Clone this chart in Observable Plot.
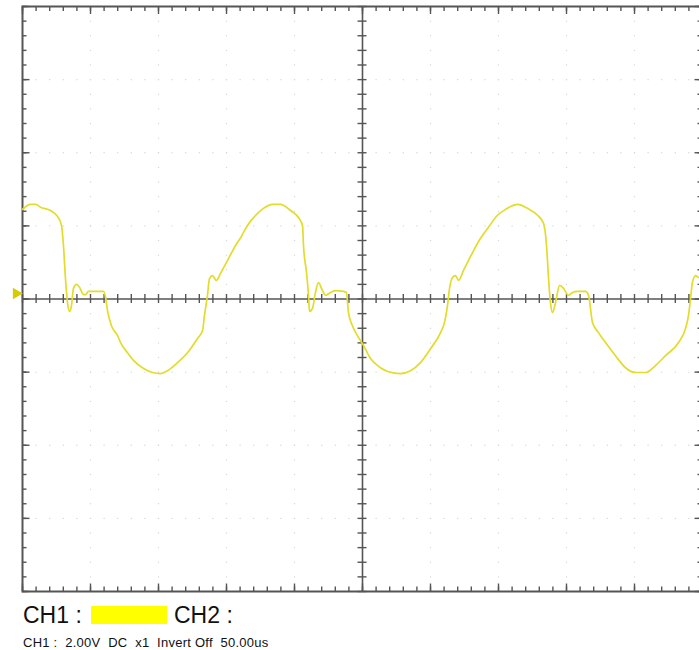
<!DOCTYPE html>
<html>
<head>
<meta charset="utf-8">
<script src="https://cdn.jsdelivr.net/npm/d3@7"></script>
<script src="https://cdn.jsdelivr.net/npm/@observablehq/plot@0.6"></script>
<style>
  html, body { margin: 0; padding: 0; background: #fff; overflow: hidden; width: 699px; height: 650px; }
  #wrap { position: relative; width: 699px; height: 650px; overflow: hidden; }
  #chart { position: absolute; left: 0; top: 0; }
  .big { position: absolute; font-family: "Liberation Sans", Arial, sans-serif; font-size: 23px; line-height: 23px; color: #111; white-space: pre; }
  .small { position: absolute; font-family: "Liberation Sans", Arial, sans-serif; font-size: 13px; line-height: 13px; letter-spacing: 0.25px; color: #111; white-space: pre; }
  #swatch { position: absolute; left: 91px; top: 606px; width: 76px; height: 18px; background: #ffff00; }
</style>
</head>
<body>
<div id="wrap">
  <div id="chart"></div>
  <div class="big" style="left:23px; top:603.5px;">CH1 :</div>
  <div id="swatch"></div>
  <div class="big" style="left:174px; top:603.5px;">CH2 :</div>
  <div class="small" style="left:23px; top:635.7px;">CH1 :  2.00V  DC  x1  Invert Off  50.00us</div>
</div>
<script>
// Time in microseconds (50 us/div), voltage in volts (2 V/div)
const times = [
  -250, -244.1, -240.4, -236.8, -229.4, -224.3, -221.3, -219.9, -218.4, -216.9,
  -215.4, -214.0, -212.5, -210.3, -208.1, -205.1, -203.7, -201.5, -198.5, -190.4,
  -188.9, -187.5, -184.6, -180.1, -177.9, -172.8, -168.4, -161.0, -154.4, -148.5,
  -143.4, -136.0, -128.7, -121.3, -117.6, -116.2, -114.0, -112.5, -110.3, -107.4,
  -104.4, -99.3, -91.9, -89.7, -87.5, -84.6, -77.2, -72.8, -66.2, -60.3,
  -52.9, -47.1, -44.1, -43.4, -41.2, -39.7, -39.0, -36.8, -34.6, -32.4,
  -29.4, -27.2, -23.5, -19.9, -14.0, -11.8, -10.3, -7.4, -3.7, 0.7,
  5.9, 13.2, 19.1, 27.9, 35.3, 42.6, 50.0, 57.4, 60.3, 62.5,
  64.0, 66.2, 68.4, 70.6, 74.3, 80.9, 86.8, 92.6, 99.3, 105.1,
  114.0, 121.3, 128.7, 133.1, 135.3, 136.8, 138.2, 139.7, 141.9, 144.9,
  147.8, 151.5, 154.4, 158.1, 164.0, 166.2, 169.1, 173.5, 178.7, 186.0,
  193.4, 200.7, 208.1, 215.4, 222.8, 232.4, 237.5, 239.7, 241.2, 242.6,
  244.9, 247.1, 250
];
const volts = [
  2.45, 2.59, 2.59, 2.51, 2.42, 2.26, 2.01, 1.47, 0.56, -0.10,
  -0.34, -0.18, 0.29, 0.40, 0.32, 0.12, 0.12, 0.21, 0.21, 0.21,
  0.04, -0.32, -0.73, -1.00, -1.19, -1.47, -1.68, -1.90, -2.01, -2.04,
  -1.96, -1.74, -1.47, -1.08, -0.86, -0.45, 0.10, 0.56, 0.64, 0.51,
  0.70, 1.05, 1.55, 1.67, 1.82, 2.01, 2.34, 2.48, 2.59, 2.59,
  2.42, 2.23, 2.01, 1.47, 0.73, 0.10, -0.34, -0.26, 0.18, 0.45,
  0.23, 0.10, 0.18, 0.23, 0.21, 0.18, -0.37, -0.73, -1.00, -1.27,
  -1.63, -1.88, -1.99, -2.04, -1.96, -1.74, -1.36, -0.92, -0.64, -0.18,
  0.29, 0.59, 0.64, 0.51, 0.78, 1.27, 1.66, 1.96, 2.29, 2.45,
  2.59, 2.48, 2.29, 2.07, 1.47, 0.56, -0.10, -0.37, -0.10, 0.37,
  0.29, 0.10, 0.18, 0.21, 0.21, 0.10, -0.64, -0.92, -1.19, -1.55,
  -1.88, -2.01, -2.01, -1.82, -1.55, -1.19, -0.81, -0.45, 0.01, 0.45,
  0.64, 0.59, 0.65
];
// Screen layout in divisions: 10 horizontal x 8 vertical
const timeDomain = [-250, 250];
const voltDomain = [-8, 8];
const triggerLevel = [0.15];

const trace = times.map((t, i) => ({t, v: volts[i]}));

// minor tick positions (5 per division)
const minorT = d3.range(-250, 250.001, 10);
const minorV = d3.range(-8, 8.001, 0.4);
const majorT = d3.range(-250, 250.001, 50);
const majorV = d3.range(-8, 8.001, 2);

const pxV = 16 / 585;   // volts per pixel
const pxT = 500 / 680;  // us per pixel

// faint dotted grid along major lines
const gridDots = [];
for (const t of majorT) if (t !== 0 && Math.abs(t) !== 250) for (const v of minorV) gridDots.push({t, v});
for (const v of majorV) if (v !== 0 && Math.abs(v) !== 8) for (const t of minorT) gridDots.push({t, v});

const axisColor = "#555";

const plot = Plot.plot({
  width: 702,
  height: 597,
  marginLeft: 22,
  marginRight: 0,
  marginTop: 6,
  marginBottom: 6,
  x: {domain: timeDomain, axis: null},
  y: {domain: voltDomain, axis: null},
  marks: [
    Plot.dot(gridDots, {x: "t", y: "v", r: 0.7, fill: "#d6d6d6", stroke: null}),
    Plot.ruleX([0], {stroke: axisColor, strokeWidth: 1.6}),
    Plot.ruleY([0], {stroke: axisColor, strokeWidth: 1.6}),
    // ticks on centre horizontal line
    Plot.ruleX(minorT, {y1: -4.5 * pxV, y2: 4.5 * pxV, stroke: axisColor, strokeWidth: 1.4}),
    // ticks on centre vertical line
    Plot.ruleY(minorV, {x1: -4.5 * pxT, x2: 4.5 * pxT, stroke: axisColor, strokeWidth: 1.4}),
    // top frame ticks
    Plot.ruleX(minorT, {y1: 8, y2: 8 - 5 * pxV, stroke: axisColor, strokeWidth: 1.4}),
    Plot.ruleX(majorT, {y1: 8, y2: 8 - 8 * pxV, stroke: axisColor, strokeWidth: 1.4}),
    // bottom frame ticks
    Plot.ruleX(minorT, {y1: -8, y2: -8 + 4.5 * pxV, stroke: axisColor, strokeWidth: 1.4}),
    Plot.ruleX(majorT, {y1: -8, y2: -8 + 7.5 * pxV, stroke: axisColor, strokeWidth: 1.4}),
    // left frame ticks
    Plot.ruleY(minorV, {x1: -250, x2: -250 + 4.5 * pxT, stroke: axisColor, strokeWidth: 1.4}),
    Plot.ruleY(majorV, {x1: -250, x2: -250 + 7.5 * pxT, stroke: axisColor, strokeWidth: 1.4}),
    // right frame ticks (mostly off-screen)
    Plot.ruleY(minorV, {x1: 250, x2: 250 - 4.5 * pxT, stroke: axisColor, strokeWidth: 1.4}),
    Plot.ruleY(majorV, {x1: 250, x2: 250 - 7.5 * pxT, stroke: axisColor, strokeWidth: 1.4}),
    Plot.frame({stroke: axisColor, strokeWidth: 2}),
    // waveform
    Plot.line(trace, {x: "t", y: "v", stroke: "#e2dc2a", strokeWidth: 1.7, curve: "monotone-x"}),
    // channel reference marker
    Plot.dot(triggerLevel, {x: -250 - 6.3 * pxT, y: d => d, symbol: "triangle", rotate: 90, r: 4.3, fill: "#d6cc00", stroke: null})
  ]
});
plot.style.maxWidth = "none";
plot.style.overflow = "visible";
document.getElementById("chart").appendChild(plot);
</script>
</body>
</html>
